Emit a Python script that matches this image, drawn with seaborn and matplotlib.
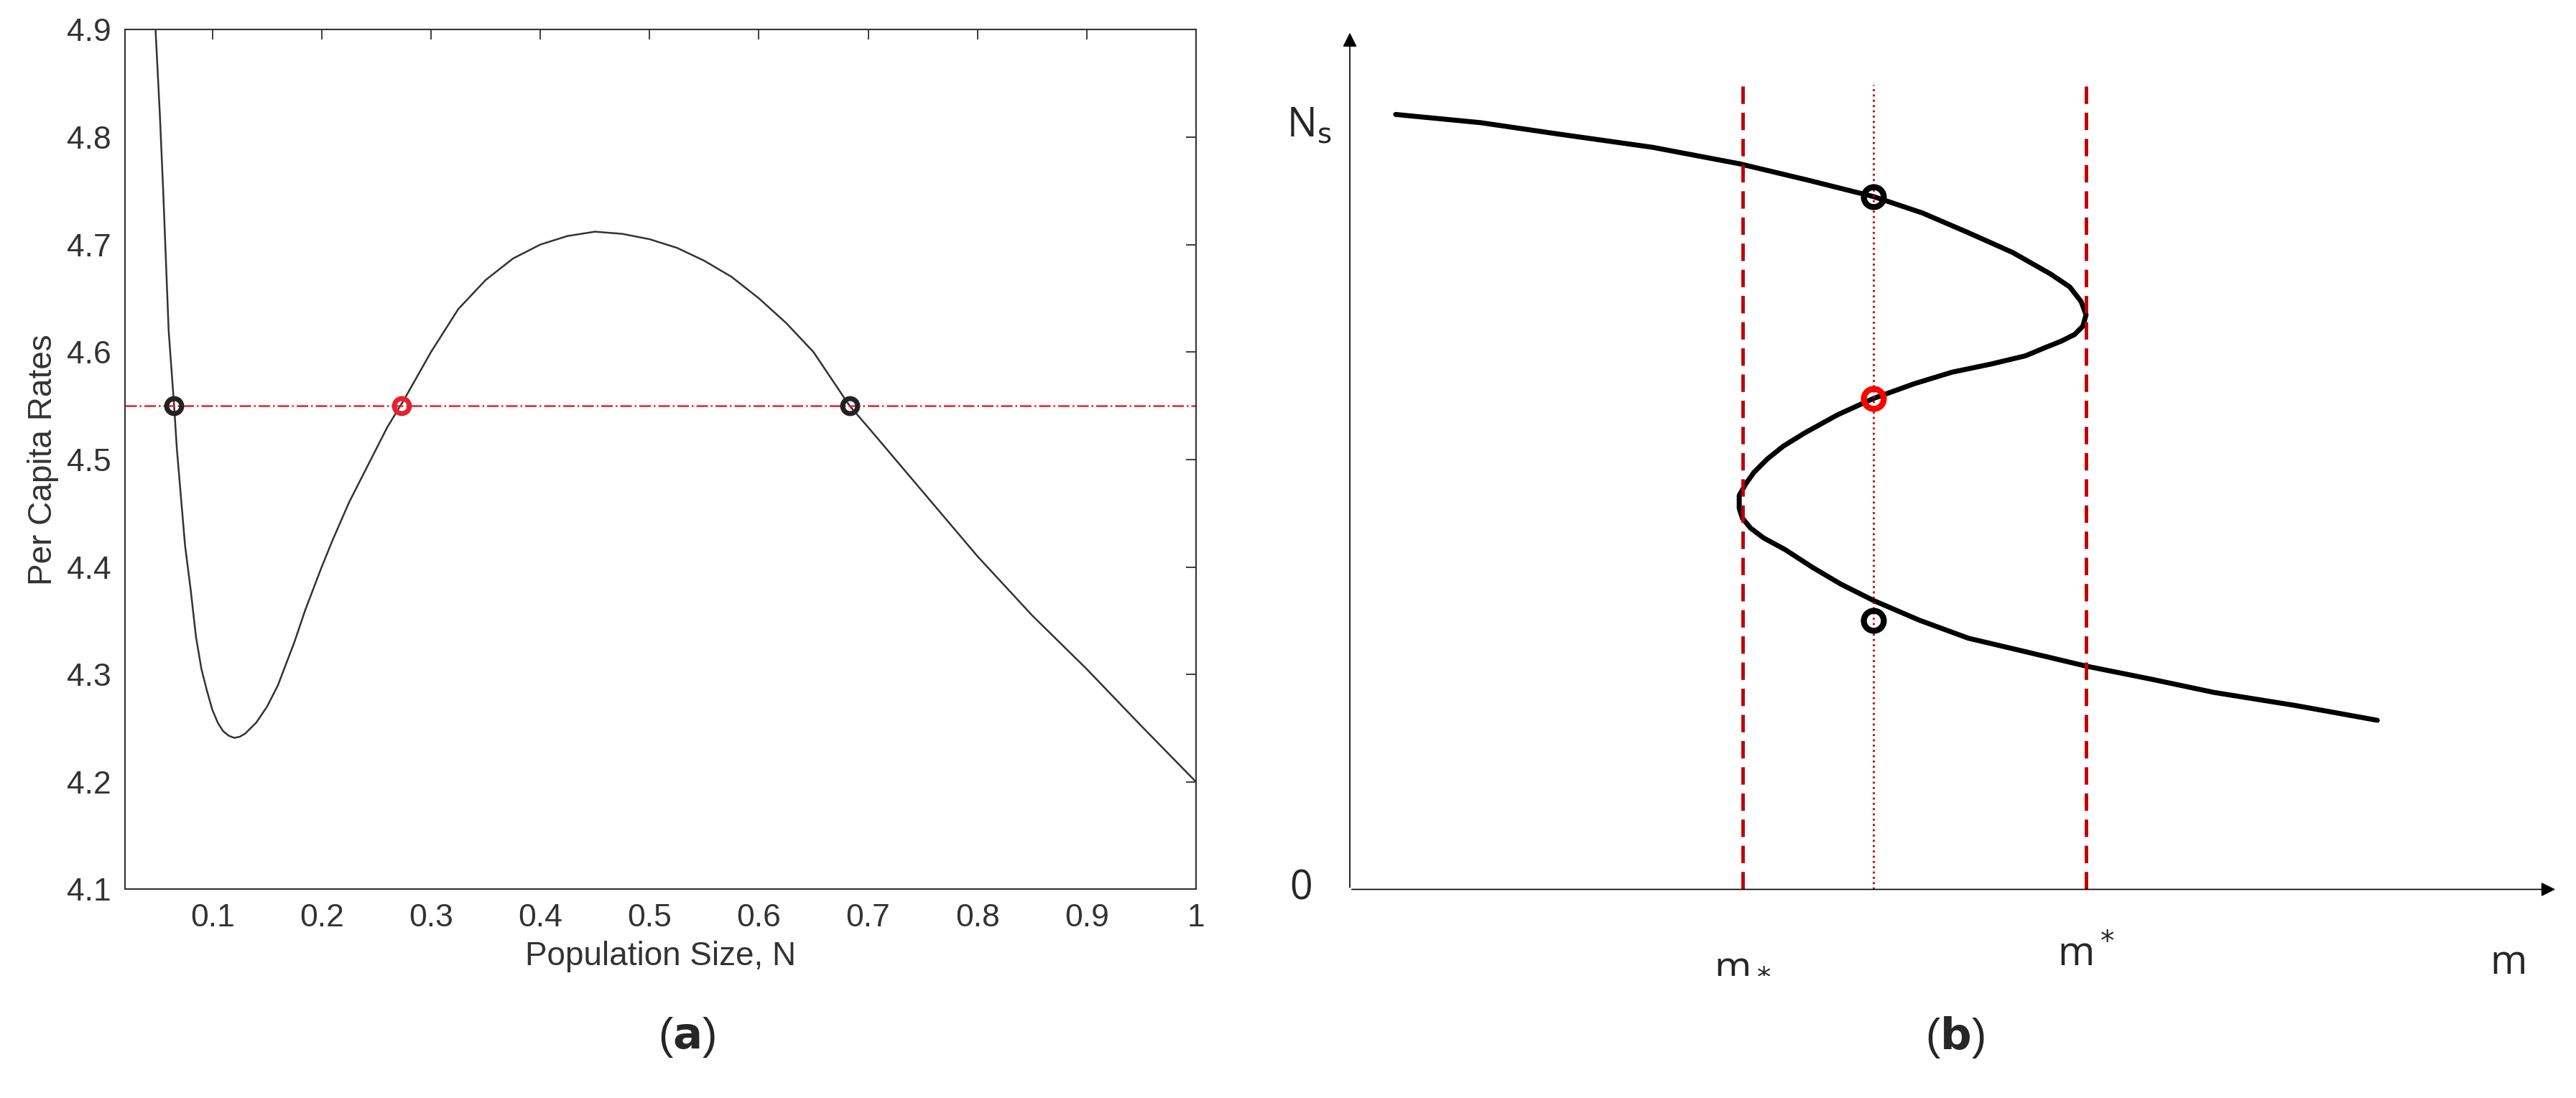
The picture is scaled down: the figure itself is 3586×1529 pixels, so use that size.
import matplotlib
matplotlib.use("Agg")
import matplotlib.pyplot as plt
import seaborn as sns
import pandas as pd

sns.set_theme(style="white")
plt.rcParams['font.family'] = ['Liberation Sans', 'DejaVu Sans']

# Panel (a)
N_vals = [0.048,0.052,0.055,0.06,0.0625,0.065,0.0675,0.07,0.075,0.08,0.085,0.09,0.095,0.1,0.105,0.11,0.115,0.12,0.125,0.13,0.14,0.15,0.16,0.175,0.185,0.2,0.21,0.225,0.24,0.25,0.26,0.275,0.3,0.325,0.35,0.375,0.4,0.425,0.45,0.475,0.5,0.525,0.55,0.575,0.6,0.625,0.65,0.683,0.7,0.75,0.8,0.85,0.9,0.95,1.0]
rate_vals = [4.9,4.82,4.75,4.62,4.585,4.55,4.51,4.48,4.42,4.38,4.335,4.305,4.285,4.267,4.255,4.247,4.243,4.241,4.242,4.245,4.255,4.27,4.29,4.33,4.36,4.40,4.425,4.46,4.49,4.51,4.53,4.555,4.6,4.64,4.667,4.687,4.70,4.708,4.712,4.71,4.705,4.697,4.685,4.67,4.65,4.627,4.6,4.55,4.53,4.47,4.41,4.355,4.305,4.252,4.2]
level = 4.55
eq_N = [0.065, 0.273, 0.683]
eq_colors = ['#222222', '#e8202f', '#222222']
xticks_a = [0.1,0.2,0.3,0.4,0.5,0.6,0.7,0.8,0.9,1]
yticks_a = [4.1,4.2,4.3,4.4,4.5,4.6,4.7,4.8,4.9]

# Panel (b): S-curve (m, Ns) in arbitrary units
m_curve = [28,80,128,185,238,280,320,350,378,405,428,440,447,450,448,443,435,425,413,392,368,345,320,298,278,265,255,247,242,238,238,240,245,253,266,283,300,320,348,378,412,450,490,528,578,628]
ns_curve = [472,467,460,452,442,432,422,412,400,388,375,367,358,350,343,338,334,330,325,320,315,308,299,289,278,270,262,254,247,240,232,226,220,214,207,196,186,176,164,153,145,136,128,120,112,103,93][:46]
m_low, m_mid, m_high = 240, 320, 450
eq_ns = [422, 299, 164]
eq_colors_b = ['black', 'red', 'black']

fig = plt.figure(figsize=(35.86, 15.29), dpi=100)
ax1 = fig.add_axes([0.0485, 0.19, 0.4158, 0.783])
df = pd.DataFrame({'N': N_vals, 'r': rate_vals})
sns.lineplot(data=df, x='N', y='r', ax=ax1, color='#333333', lw=1.8, sort=False)
ax1.axhline(level, color='#e8202f', ls='-.', lw=1.8)
for n, c in zip(eq_N, eq_colors):
    ax1.plot(n, level, 'o', mfc='none', mec=c, ms=15, mew=5)
ax1.set_xlim(0.02, 1)
ax1.set_ylim(4.1, 4.9)
ax1.set_xticks(xticks_a)
ax1.set_xticklabels([f"{t:g}" for t in xticks_a])
ax1.set_yticks(yticks_a)
ax1.tick_params(direction='in', length=10, labelsize=32, labelcolor='#333333', top=True, right=True, pad=14)
ax1.set_xlabel('Population Size, N', fontsize=33, color='#333333', labelpad=8)
ax1.set_ylabel('Per Capita Rates', fontsize=33, color='#333333', labelpad=8)
for s in ax1.spines.values():
    s.set_color('#333333'); s.set_linewidth(1.5)
fig.text(0.2665, 0.055, r'($\mathbf{a}$)', fontsize=44, ha='center', va='center')

ax2 = fig.add_axes([0.524, 0.19, 0.47, 0.785])
ax2.set_axis_off()
ax2.set_xlim(0, 740)
ax2.set_ylim(0, 525)
ax2.annotate('', xy=(738, 0), xytext=(0, 0), arrowprops=dict(arrowstyle='-|>', color='black', lw=1.2, mutation_scale=30))
ax2.annotate('', xy=(0, 523), xytext=(0, 0), arrowprops=dict(arrowstyle='-|>', color='black', lw=1.2, mutation_scale=30))
ax2.plot(m_curve, ns_curve, color='black', lw=5, solid_capstyle='round', solid_joinstyle='round')
for xv in (m_low, m_high):
    ax2.plot([xv, xv], [0, 490], color='#c00000', ls=(0, (5, 2.5)), lw=3.5)
ax2.plot([m_mid, m_mid], [0, 490], color='#c00000', ls=':', lw=2)
for y, c in zip(eq_ns, eq_colors_b):
    ax2.plot(m_mid, y, 'o', mfc='none', mec=c, ms=20, mew=6)
fam = ['Open Sans', 'DejaVu Sans']
ax2.text(-25, 465, r'N$_\mathrm{s}$', fontsize=40, ha='center', va='center', family=fam)
ax2.text(-30, 0, '0', fontsize=40, ha='center', va='center', family=fam)
ax2.text(m_low, -45, r'm$_*$', fontsize=40, ha='center', va='center', family=fam)
ax2.text(m_high, -40, r'm$^*$', fontsize=40, ha='center', va='center', family=fam)
ax2.text(708, -45, 'm', fontsize=40, ha='center', va='center', family=fam)
fig.text(0.759, 0.055, r'($\mathbf{b}$)', fontsize=44, ha='center', va='center')

fig.savefig('out.png', dpi=100)
